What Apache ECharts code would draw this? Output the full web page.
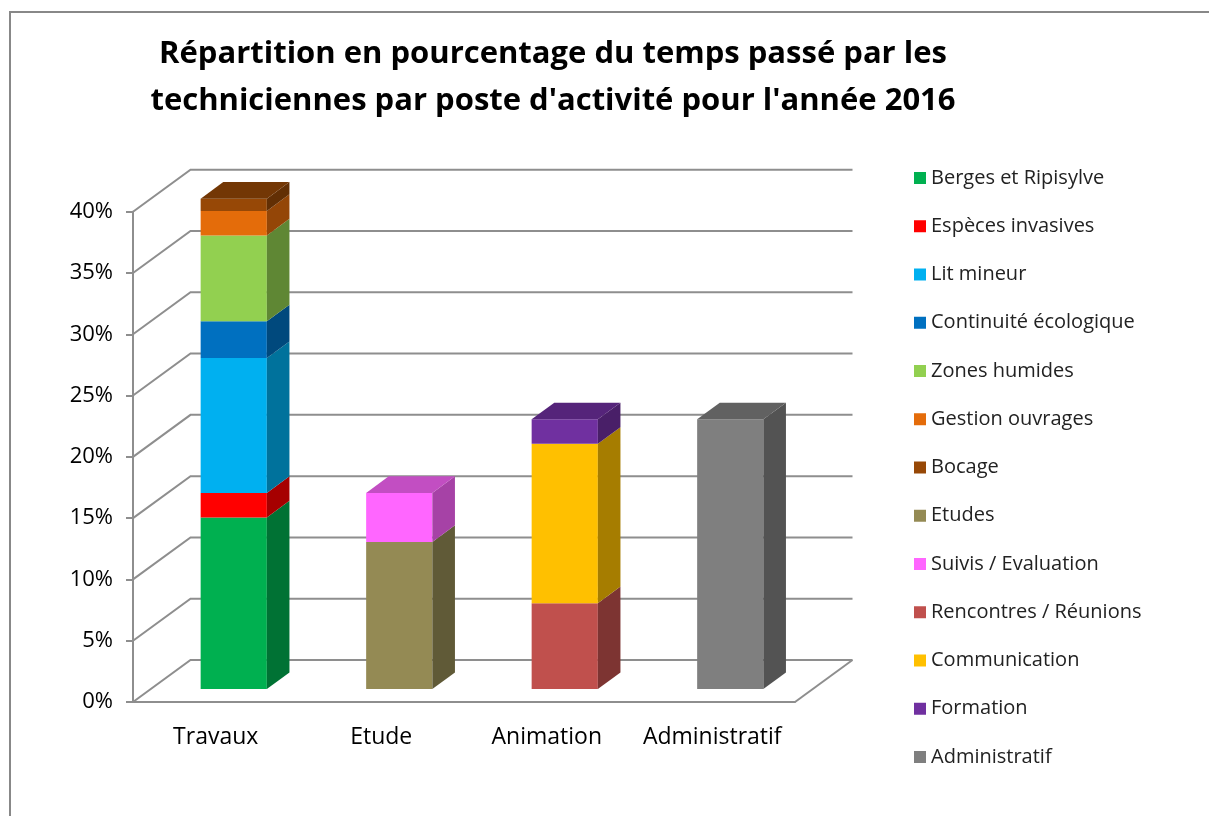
<!DOCTYPE html>
<html>
<head>
<meta charset="utf-8">
<script src="https://cdn.jsdelivr.net/npm/echarts@6/dist/echarts.min.js"></script>
<style>html,body{margin:0;padding:0;background:#fff;}#c{width:1209px;height:816px;}</style>
</head>
<body>
<div id="c"></div>
<script>
// ---- data ----
var categories = ['Travaux', 'Etude', 'Animation', 'Administratif'];
var seriesNames = ['Berges et Ripisylve', 'Espèces invasives', 'Lit mineur', 'Continuité écologique',
  'Zones humides', 'Gestion ouvrages', 'Bocage', 'Etudes', 'Suivis / Evaluation',
  'Rencontres / Réunions', 'Communication', 'Formation', 'Administratif'];
var berges = [14, 0, 0, 0];
var especes = [2, 0, 0, 0];
var litMineur = [11, 0, 0, 0];
var continuite = [3, 0, 0, 0];
var zonesHumides = [7, 0, 0, 0];
var gestionOuvrages = [2, 0, 0, 0];
var bocage = [1, 0, 0, 0];
var etudes = [0, 12, 0, 0];
var suivis = [0, 4, 0, 0];
var rencontres = [0, 0, 7, 0];
var communication = [0, 0, 13, 0];
var formation = [0, 0, 2, 0];
var administratif = [0, 0, 0, 22];
var yTicks = [0, 5, 10, 15, 20, 25, 30, 35, 40];

// ---- styles ----
var colors = ['#00B050', '#FF0000', '#00B0F0', '#0070C0', '#92D050', '#E46C0A', '#974806',
  '#948A54', '#FF66FF', '#C0504D', '#FFC000', '#7030A0', '#7F7F7F'];
var FONT = "'Open Sans', sans-serif";
var BACK = [57.5, -42];   // depth of the plot box (px)
var FRONT = [18, -13];    // offset of bar front face
var DEPTH = [22.6, -16.6];// bar depth
var GRIDC = '#8E8E8E';

var allValues = [berges, especes, litMineur, continuite, zonesHumides, gestionOuvrages, bocage,
  etudes, suivis, rencontres, communication, formation, administratif];

function shade(hex, f) {
  var n = parseInt(hex.slice(1), 16);
  var r = Math.round(((n >> 16) & 255) * f), g = Math.round(((n >> 8) & 255) * f), b = Math.round((n & 255) * f);
  return 'rgb(' + r + ',' + g + ',' + b + ')';
}

function makeRender(s) {
  return function (params, api) {
    var i = api.value(0), v = api.value(1);
    if (!v) return null;
    var base = 0;
    for (var k = 0; k < s; k++) base += allValues[k][i];
    var topIdx = -1;
    for (var k2 = 0; k2 < allValues.length; k2++) if (allValues[k2][i] > 0) topIdx = k2;
    var p0 = api.coord([i, base]);
    var p1 = api.coord([i, base + v]);
    var w = api.size([1, 0])[0] * 0.4;
    var xl = p0[0] - w / 2 + FRONT[0], xr = p0[0] + w / 2 + FRONT[0];
    var yb = p0[1] + FRONT[1], yt = p1[1] + FRONT[1];
    var c = colors[s];
    var children = [
      { type: 'polygon', shape: { points: [[xl, yb], [xr, yb], [xr, yt], [xl, yt]] }, style: { fill: c } },
      { type: 'polygon', shape: { points: [[xr, yb], [xr + DEPTH[0], yb + DEPTH[1]], [xr + DEPTH[0], yt + DEPTH[1]], [xr, yt]] }, style: { fill: shade(c, 0.65) } }
    ];
    if (s === topIdx) {
      children.push({ type: 'polygon', shape: { points: [[xl, yt], [xr, yt], [xr + DEPTH[0], yt + DEPTH[1]], [xl + DEPTH[0], yt + DEPTH[1]]] }, style: { fill: shade(c, 0.76) } });
    }
    return { type: 'group', children: children };
  };
}

var series = [{
  type: 'custom', name: 'grid3d', silent: true, z: 1,
  data: yTicks.map(function (t) { return [0, t]; }),
  renderItem: function (params, api) {
    var cs = params.coordSys;
    var y = api.coord([0, api.value(1)])[1];
    var x0 = cs.x, x1 = cs.x + cs.width;
    var kids = [{ type: 'polyline', shape: { points: [[x0, y], [x0 + BACK[0], y + BACK[1]], [x1 + BACK[0], y + BACK[1]]] }, style: { stroke: GRIDC, lineWidth: 2, fill: null } }];
    if (api.value(1) === 0) {
      kids.push({ type: 'line', shape: { x1: x1, y1: y, x2: x1 + BACK[0], y2: y + BACK[1] }, style: { stroke: GRIDC, lineWidth: 2 } });
    }
    return { type: 'group', children: kids };
  }
}];
seriesNames.forEach(function (name, s) {
  series.push({
    type: 'custom', name: name, z: 2,
    itemStyle: { color: colors[s] },
    data: allValues[s].map(function (v, i) { return [i, v]; }),
    renderItem: makeRender(s)
  });
});

var chart = echarts.init(document.getElementById('c'), null, { renderer: 'canvas' });
chart.setOption({
  backgroundColor: '#fff',
  animation: false,
  title: {
    text: 'Répartition en pourcentage du temps passé par les\ntechniciennes par poste d\'activité pour l\'année 2016',
    left: 548, top: 26, textAlign: 'center',
    textStyle: { fontFamily: FONT, fontWeight: 'bold', fontSize: 31, lineHeight: 47, color: '#000' }
  },
  graphic: [{ type: 'rect', shape: { x: 10, y: 12, width: 1400, height: 1000 }, style: { fill: null, stroke: '#888', lineWidth: 2 }, silent: true, z: -10 }],
  legend: {
    orient: 'vertical', left: 909, top: 162,
    data: seriesNames, icon: 'rect', itemWidth: 12, itemHeight: 12, itemGap: 26.25,
    textStyle: { fontFamily: FONT, fontSize: 20, lineHeight: 22, color: '#222' }
  },
  grid: { left: 133, right: 414, top: 211.7, bottom: 114 },
  xAxis: {
    type: 'category', data: categories, boundaryGap: true,
    axisLine: { lineStyle: { color: GRIDC, width: 2 } },
    axisTick: { length: 9, lineStyle: { color: GRIDC, width: 2 } },
    axisLabel: { interval: 0, margin: 24, fontFamily: FONT, fontSize: 23, color: '#000' }
  },
  yAxis: {
    type: 'value', min: 0, max: 40, interval: 5,
    axisLine: { show: true, lineStyle: { color: GRIDC, width: 2 } },
    axisTick: { show: true, length: 7, lineStyle: { color: GRIDC, width: 2 } },
    splitLine: { show: false },
    axisLabel: { margin: 20, formatter: '{value}%', fontFamily: FONT, fontSize: 22, color: '#000' }
  },
  series: series
});
</script>
</body>
</html>
